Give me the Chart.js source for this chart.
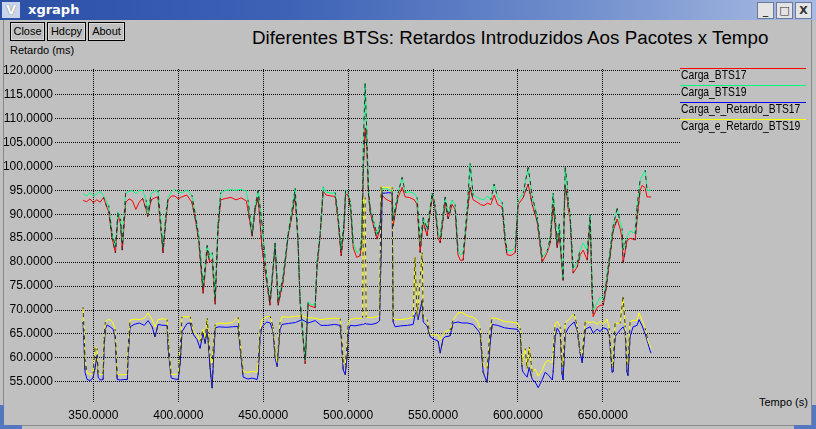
<!DOCTYPE html>
<html lang="pt">
<head>
<meta charset="UTF-8">
<title>xgraph</title>
<script src="https://cdn.jsdelivr.net/npm/chart.js"></script>
<style>
    body {
        margin: 0;
        width: 816px;
        height: 429px;
        overflow: hidden;
        background: #c0c0c0;
        font-family: 'Liberation Sans', Arial, sans-serif;
    }
    .janela { position: absolute; left: 0; top: 0; width: 816px; height: 429px; background: #c0c0c0; }
    .barra {
        position: absolute; left: 0; top: 0; width: 816px; height: 20px;
        background: linear-gradient(90deg, #2c4fa6 0%, #3d62b6 35%, #6f8dcc 70%, #a9bbe2 100%);
    }
    .barra .icone {
        position: absolute; left: 2px; top: 2px; width: 18px; height: 16px;
        background: #c9d3ea; color: #fff; font: bold 13px 'DejaVu Sans', sans-serif;
        text-align: center; line-height: 16px; text-shadow: 0 0 1px #444;
    }
    .barra .nome {
        position: absolute; left: 28px; top: 2px; color: #fff;
        font: bold 13px 'DejaVu Sans', sans-serif; line-height: 16px;
    }
    .barra .bt {
        position: absolute; top: 2px; width: 15px; height: 15px;
        background: #e4e4e4; border: 1px solid #6b7a9c; color: #333;
        font: bold 11px 'DejaVu Sans', sans-serif; text-align: center; line-height: 15px;
    }
    .botao {
        position: absolute; top: 22px; height: 17px;
        border: 1px solid #000; box-shadow: inset 0 0 0 1px #d8d8d8;
        font-size: 11px; line-height: 17px; text-align: center; color: #000;
    }
    .rotulo { position: absolute; font-size: 11px; color: #000; white-space: nowrap; }
    .titulo { position: absolute; left: 252px; top: 27px; font-size: 18.8px; color: #000; white-space: nowrap; }
    .borda-esq { position: absolute; left: 3px; top: 20px; width: 1px; height: 405px; background: #8a8a8a; }
    .borda-dir { position: absolute; left: 811px; top: 20px; width: 1px; height: 405px; background: #8a8a8a; }
    .borda-baixo { position: absolute; left: 3px; top: 425px; width: 809px; height: 1px; background: #8a8a8a; }
    .canto-v { position: absolute; top: 405px; width: 4px; height: 24px; background: #5477c0; }
    .canto-h { position: absolute; top: 425px; width: 22px; height: 4px; background: #5477c0; }
    canvas { position: absolute; left: 0; top: 0; }
</style>
</head>
<body>
<div class="janela">
    <div class="barra">
        <div class="icone">V</div>
        <div class="nome">xgraph</div>
        <div class="bt" style="left:757px">_</div>
        <div class="bt" style="left:776px">□</div>
        <div class="bt" style="left:795px">X</div>
    </div>
    <div class="botao" style="left:10px; width:33px">Close</div>
    <div class="botao" style="left:47px; width:37px">Hdcpy</div>
    <div class="botao" style="left:88px; width:35px">About</div>
    <div class="rotulo" style="left:10px; top:44px">Retardo (ms)</div>
    <div class="titulo">Diferentes BTSs: Retardos Introduzidos Aos Pacotes x Tempo</div>
    <div class="rotulo" style="left:759px; top:396px">Tempo (s)</div>
    <div class="borda-esq"></div>
    <div class="borda-dir"></div>
    <div class="borda-baixo"></div>
    <div class="canto-v" style="left:0"></div>
    <div class="canto-h" style="left:0"></div>
    <div class="canto-v" style="left:812px"></div>
    <div class="canto-h" style="left:794px"></div>
</div>
<canvas id="grafico" width="816" height="429"></canvas>
<script>
// Carga_BTS17 (vermelho) e Carga_BTS19 (verde) - faixa de cima
const tempoCarga = [
    344, 346, 348, 350, 352, 354, 356, 358, 359, 361, 363, 364.5, 366, 367, 369, 371, 373, 375, 377, 379,
    381, 382, 384, 386, 388, 390, 391, 393, 394, 396, 398, 400, 402, 405, 408, 410, 412, 414.6, 417, 418.5,
    420, 421.7, 423.4, 425, 428, 431, 434, 437, 440, 441, 443.5, 445.2, 447, 449.3, 452.3, 454, 457, 458.8, 461.7, 464.7,
    467, 468.8, 470.5, 471.7, 474.7, 476.4, 478, 480.6, 481.7, 483.5, 485.3, 487, 490, 492.4, 494, 495.9, 497.5, 498.5, 500, 501.5,
    503, 505, 507, 508, 509, 510, 511, 512, 513, 515, 517, 518.8, 520, 522, 524, 525.9, 526.5, 528, 529.4, 531.8,
    533.6, 536, 539, 540.6, 542.4, 544.2, 546.5, 549.5, 551.2, 553, 554.2, 557.1, 558.9, 561.2, 563, 564.7, 566, 567.7, 570.1, 571.8,
    573.6, 576, 578, 580, 582, 584, 586, 588, 590.7, 592.5, 593.6, 596, 598.4, 600.1, 603.1, 606, 608.4, 611.3, 614.3, 617.2,
    619, 620.7, 623.1, 624.3, 626.6, 627.2, 627.8, 629, 629.6, 630.7, 631.9, 632.5, 634.9, 636.6, 638.4, 640.8, 642.5, 643.7, 644.3, 646.6,
    648.4, 650.2, 651.9, 654.3, 656, 658.4, 660.1, 661.3, 661.9, 664.2, 666, 669, 670.1, 671.9, 673.1, 674.9, 676, 678.4
];
const cargaBTS17 = [
    92.9, 92.6, 93.2, 92.4, 93.0, 92.5, 93.5, 91.4, 90.6, 85.0, 81.9, 90.0, 88.0, 82.5, 92.4, 93.2, 92.8, 91.0, 92.5, 93.3,
    91.0, 89.5, 93.0, 93.4, 93.6, 86.0, 81.9, 90.0, 93.0, 93.8, 93.8, 93.2, 93.6, 94.0, 92.5, 89.0, 84.5, 73.5, 82.5, 80.0,
    80.5, 71.2, 87.0, 93.0, 93.3, 93.5, 93.0, 93.4, 92.8, 91.0, 85.4, 91.0, 93.5, 83.0, 75.2, 71.0, 83.5, 71.0, 76.0, 85.6,
    89.8, 94.0, 84.0, 71.7, 58.8, 71.2, 70.8, 70.5, 79.0, 85.5, 94.8, 94.0, 93.8, 93.7, 89.0, 81.3, 87.0, 94.2, 94.0, 91.0,
    83.0, 81.0, 81.3, 84.0, 100.0, 108.0, 104.0, 94.0, 90.5, 87.5, 84.8, 87.0, 94.0, 93.2, 92.8, 92.5, 87.5, 91.0, 93.5, 95.6,
    93.6, 93.5, 93.0, 92.0, 82.0, 88.4, 85.5, 93.8, 91.0, 85.0, 84.0, 92.5, 89.0, 92.0, 91.0, 81.5, 80.4, 80.4, 90.0, 95.6,
    93.0, 92.5, 92.0, 91.8, 92.3, 92.0, 94.0, 92.0, 91.5, 84.0, 81.5, 81.4, 82.0, 92.0, 93.5, 96.3, 92.0, 88.5, 80.0, 82.0,
    84.0, 92.0, 83.0, 86.0, 76.2, 90.0, 96.0, 93.5, 91.0, 89.0, 81.0, 77.7, 79.0, 81.5, 82.5, 80.4, 88.8, 73.0, 68.6, 70.5,
    71.0, 71.0, 74.5, 81.5, 86.5, 89.0, 87.0, 85.0, 79.8, 84.5, 85.0, 84.6, 89.0, 95.0, 96.0, 95.5, 93.6, 93.6
];
const cargaBTS19 = [
    94.3, 93.8, 94.5, 93.8, 94.2, 94.8, 93.9, 92.5, 91.8, 86.0, 83.2, 90.5, 89.0, 84.0, 94.4, 94.8, 94.9, 94.3, 94.9, 95.0,
    93.0, 89.8, 94.3, 94.8, 95.0, 87.0, 83.0, 91.0, 93.5, 94.6, 95.2, 94.6, 94.5, 95.0, 94.0, 90.0, 85.5, 75.0, 83.5, 81.0,
    82.0, 72.5, 88.0, 94.5, 95.0, 95.1, 95.0, 95.2, 94.8, 93.0, 86.0, 91.5, 95.0, 88.0, 76.0, 72.0, 84.0, 72.0, 77.0, 86.0,
    91.0, 95.4, 85.0, 72.0, 59.5, 71.7, 71.2, 71.0, 80.0, 86.0, 95.7, 94.6, 94.4, 94.5, 90.0, 82.5, 88.0, 95.0, 94.6, 92.0,
    84.0, 82.0, 82.5, 85.0, 105.0, 117.3, 107.0, 95.0, 91.3, 88.5, 85.8, 88.0, 95.3, 95.5, 95.0, 94.8, 89.0, 92.0, 94.4, 97.7,
    94.5, 94.7, 94.3, 93.5, 84.0, 89.3, 87.0, 94.4, 92.0, 86.0, 85.0, 93.6, 90.0, 92.9, 92.0, 82.5, 81.5, 81.8, 91.0, 100.6,
    94.0, 93.5, 93.2, 93.0, 93.8, 93.0, 96.3, 93.5, 92.5, 85.0, 82.5, 82.4, 83.0, 92.9, 94.4, 99.8, 93.8, 89.4, 81.0, 82.4,
    85.0, 94.4, 84.0, 88.0, 76.5, 90.8, 99.8, 96.5, 92.5, 90.0, 82.5, 78.5, 80.0, 82.5, 84.0, 82.4, 90.0, 74.2, 70.0, 71.5,
    72.7, 72.0, 75.6, 82.5, 87.5, 91.2, 88.5, 87.0, 82.5, 85.3, 86.5, 86.0, 91.5, 97.1, 98.0, 99.2, 95.0, 95.0
];

// Carga_e_Retardo_BTS17 (azul) e Carga_e_Retardo_BTS19 (amarelo) - faixa de baixo
const tempoRetardo = [
    343.9, 344.5, 345.1, 346.3, 348, 349.8, 351, 352.2, 352.8, 354, 355.7, 356.3, 357, 358.1, 359.8, 361.6, 362.8, 364, 366, 368,
    370, 370.4, 371.6, 374, 377, 380, 382.2, 384.6, 386.3, 388.1, 391, 393.4, 394, 395.8, 398, 400, 401.1, 402.2, 405.2, 407,
    408.7, 411.1, 412.8, 414.6, 415.8, 417, 417.6, 418.7, 419.9, 420.5, 421.7, 424, 428, 432, 434.6, 435.2, 436.4, 438.2, 441, 443.5,
    446.4, 447, 448.2, 449.3, 452, 454.1, 455.8, 457, 458.2, 459.9, 461.1, 465, 469, 472.9, 476.4, 480.6, 484, 488, 492, 495.3,
    495.9, 497.1, 498.3, 499.4, 500, 501.2, 504, 507, 508.5, 509, 510, 510.6, 514, 517, 518.5, 519.4, 520, 522, 524, 525.9,
    526.5, 527.7, 531, 535, 538.3, 539.4, 540.6, 541.2, 543.6, 544.2, 546.5, 548.3, 550, 553, 554.2, 555.9, 557.1, 560, 561.8, 564.7,
    567.1, 570.1, 573.6, 575.9, 577.7, 579.5, 581.8, 583.6, 584.8, 588, 592, 596, 599.5, 601.3, 602.5, 603.1, 604.2, 605.4, 606.6, 608.4,
    610.1, 611.9, 614.3, 616, 617.8, 620.2, 620.7, 621.9, 623.1, 624.9, 626, 626.6, 627.8, 630, 633.1, 634.9, 636.6, 637.8, 639.6, 642.5,
    644.3, 646.6, 648.4, 650.2, 652.5, 653.7, 655.4, 656, 657.2, 660.1, 661.9, 663.1, 664.2, 664.8, 666, 667.8, 670.1, 671.3, 673.1, 674.9,
    676.6, 677.8, 678.4
];
const retardoBTS17 = [
    67.5, 63.0, 57.0, 55.5, 55.3, 55.8, 58.0, 60.5, 56.0, 55.4, 55.5, 62.0, 66.0, 66.9, 66.5, 66.0, 64.5, 55.5, 55.4, 55.5,
    55.5, 60.0, 66.5, 67.0, 67.3, 66.8, 67.8, 66.5, 64.4, 67.0, 66.8, 66.8, 62.0, 55.8, 55.6, 55.5, 59.0, 65.5, 67.2, 67.3,
    65.0, 63.8, 62.0, 65.2, 63.0, 66.0, 63.5, 58.0, 53.7, 58.0, 66.3, 66.5, 66.4, 66.5, 66.6, 66.5, 62.0, 56.0, 55.6, 55.8,
    55.5, 56.5, 64.5, 66.5, 67.5, 67.3, 65.5, 60.0, 58.2, 66.0, 67.0, 67.2, 67.4, 68.0, 67.3, 67.8, 66.8, 66.8, 67.0, 66.8,
    64.6, 57.5, 56.5, 60.5, 65.5, 66.8, 66.7, 66.9, 67.0, 67.0, 67.2, 67.1, 67.0, 67.3, 67.8, 82.0, 94.4, 94.4, 94.5, 94.4,
    67.5, 66.5, 66.7, 66.8, 67.0, 69.0, 70.0, 68.0, 72.0, 67.5, 66.7, 64.4, 64.0, 63.5, 61.0, 64.0, 64.4, 64.6, 67.3, 67.5,
    67.3, 67.3, 67.0, 66.0, 65.2, 57.0, 54.9, 63.0, 67.0, 66.8, 66.3, 66.1, 66.0, 65.2, 57.5, 57.0, 56.5, 56.0, 58.0, 55.5,
    55.0, 53.8, 55.5, 57.0, 56.5, 55.4, 57.0, 64.5, 66.2, 65.2, 56.5, 55.4, 65.0, 66.5, 67.5, 65.8, 61.0, 59.0, 66.0, 66.5,
    65.2, 66.0, 65.5, 66.3, 66.0, 65.0, 57.0, 57.1, 64.5, 65.8, 66.5, 65.5, 57.0, 56.3, 64.5, 66.5, 66.8, 68.0, 66.7, 65.0,
    63.0, 61.5, 61.0
];
const retardoBTS19 = [
    70.6, 66.0, 59.6, 56.8, 56.6, 56.7, 62.3, 62.0, 57.0, 56.5, 56.6, 64.0, 67.5, 67.9, 68.0, 67.3, 66.0, 56.6, 56.5, 56.5,
    56.6, 62.0, 67.9, 68.1, 68.0, 68.3, 69.4, 68.0, 66.5, 68.0, 68.2, 68.0, 64.0, 56.5, 56.6, 56.7, 62.0, 68.6, 68.6, 68.6,
    65.7, 64.8, 63.5, 66.0, 64.0, 68.3, 65.5, 60.5, 58.5, 62.0, 67.0, 67.3, 67.2, 67.4, 68.3, 68.5, 63.0, 57.1, 57.0, 57.2,
    57.0, 59.0, 66.0, 68.0, 68.6, 68.7, 66.5, 61.0, 59.0, 67.5, 68.6, 68.5, 68.7, 68.8, 68.4, 68.3, 68.0, 68.2, 68.3, 68.2,
    66.0, 59.0, 58.5, 63.0, 67.3, 68.0, 68.3, 68.2, 68.4, 93.0, 93.5, 68.5, 68.4, 68.6, 68.8, 95.7, 95.6, 95.6, 95.6, 95.6,
    68.3, 68.0, 68.0, 68.2, 68.5, 81.0, 68.6, 71.0, 82.0, 68.6, 68.0, 65.0, 64.8, 64.8, 63.8, 64.8, 65.5, 65.8, 67.9, 69.4,
    69.5, 68.8, 68.5, 67.9, 66.2, 58.5, 57.8, 66.0, 68.4, 68.2, 67.6, 67.5, 67.3, 66.2, 58.5, 60.2, 62.0, 57.8, 62.3, 57.0,
    57.7, 56.2, 57.5, 59.0, 59.5, 59.0, 61.0, 67.1, 67.6, 66.5, 58.0, 59.0, 67.3, 68.0, 69.2, 66.5, 61.5, 60.5, 67.6, 67.4,
    67.6, 67.0, 67.7, 67.1, 68.1, 66.2, 58.0, 58.5, 67.3, 67.2, 72.7, 66.8, 58.5, 58.8, 67.5, 67.9, 67.8, 69.4, 67.8, 66.2,
    63.5, 62.5, 62.0
];

const nomesSeries = ['Carga_BTS17', 'Carga_BTS19', 'Carga_e_Retardo_BTS17', 'Carga_e_Retardo_BTS19'];
const coresSeries = ['#ff0000', '#00ff7f', '#0000ff', '#ffff00'];
const ticksX = [350, 400, 450, 500, 550, 600, 650];
const ticksY = [55, 60, 65, 70, 75, 80, 85, 90, 95, 100, 105, 110, 115, 120];

function pontos(tempos, valores) {
    return tempos.map((t, i) => ({ x: t, y: valores[i] }));
}

// legenda no estilo do xgraph: traco colorido em cima do nome
const legendaXgraph = {
    id: 'legendaXgraph',
    afterDraw(chart) {
        const c = chart.ctx;
        const x0 = chart.chartArea.right;
        c.save();
        c.font = '12px "Liberation Sans", Arial, sans-serif';
        c.textBaseline = 'middle';
        chart.data.datasets.forEach((ds, i) => {
            const y = 68.5 + 17 * i;
            c.strokeStyle = ds.borderColor;
            c.lineWidth = 1;
            c.beginPath();
            c.moveTo(x0, y);
            c.lineTo(x0 + 126, y);
            c.stroke();
            c.save();
            c.translate(x0 + 1, y + 7);
            c.scale(0.86, 1);
            c.fillStyle = '#000';
            c.fillText(ds.label, 0, 0);
            c.restore();
        });
        c.restore();
    }
};

// o xgraph deixa os trechos quase verticais com aspecto tracejado escuro
const tracosVerticais = {
    id: 'tracosVerticais',
    afterDatasetsDraw(chart) {
        const c = chart.ctx;
        const a = chart.chartArea;
        c.save();
        c.beginPath();
        c.rect(a.left, a.top, a.right - a.left, a.bottom - a.top);
        c.clip();
        c.strokeStyle = '#2e2e2e';
        c.lineWidth = 1;
        c.setLineDash([4, 4]);
        c.lineDashOffset = 2;
        chart.getSortedVisibleDatasetMetas().forEach(meta => {
            const pts = meta.data;
            for (let i = 1; i < pts.length; i++) {
                const p = pts[i - 1], q = pts[i];
                const dx = Math.abs(q.x - p.x), dy = Math.abs(q.y - p.y);
                if (dy > 10 && dy > 2.5 * dx) {
                    c.beginPath();
                    c.moveTo(p.x, p.y);
                    c.lineTo(q.x, q.y);
                    c.stroke();
                }
            }
        });
        c.restore();
    }
};

const fonteEixo = { family: "'Liberation Sans', Arial, sans-serif", size: 12 };

new Chart(document.getElementById('grafico').getContext('2d'), {
    type: 'line',
    data: {
        datasets: [
            { label: nomesSeries[0], data: pontos(tempoCarga, cargaBTS17), borderColor: coresSeries[0], order: 3 },
            { label: nomesSeries[1], data: pontos(tempoCarga, cargaBTS19), borderColor: coresSeries[1], order: 2 },
            { label: nomesSeries[2], data: pontos(tempoRetardo, retardoBTS17), borderColor: coresSeries[2], order: 1 },
            { label: nomesSeries[3], data: pontos(tempoRetardo, retardoBTS19), borderColor: coresSeries[3], order: 0 }
        ]
    },
    options: {
        responsive: false,
        animation: false,
        events: [],
        elements: {
            line: { borderWidth: 1, tension: 0, fill: false },
            point: { radius: 0 }
        },
        layout: { padding: { top: 69, right: 136, bottom: 4, left: 0 } },
        plugins: { legend: { display: false }, tooltip: { enabled: false } },
        scales: {
            x: {
                type: 'linear',
                min: 327.4,
                max: 695.4,
                afterBuildTicks: s => { s.ticks = ticksX.map(v => ({ value: v })); },
                afterFit: s => { s.height = 22; },
                ticks: { callback: v => v.toFixed(4), color: '#000', font: fonteEixo, padding: 5, maxRotation: 0, autoSkip: false },
                grid: { color: '#000', lineWidth: 1, drawTicks: false },
                border: { display: false, dash: [1, 1] }
            },
            y: {
                type: 'linear',
                min: 50.6,
                max: 120.3,
                afterBuildTicks: s => { s.ticks = ticksY.map(v => ({ value: v })); },
                afterFit: s => { s.width = 55; },
                ticks: { callback: v => v.toFixed(4), color: '#000', font: fonteEixo, padding: 2, autoSkip: false },
                grid: { color: '#000', lineWidth: 1, drawTicks: false },
                border: { display: false, dash: [1, 1] }
            }
        }
    },
    plugins: [legendaXgraph, tracosVerticais]
});
</script>
</body>
</html>
